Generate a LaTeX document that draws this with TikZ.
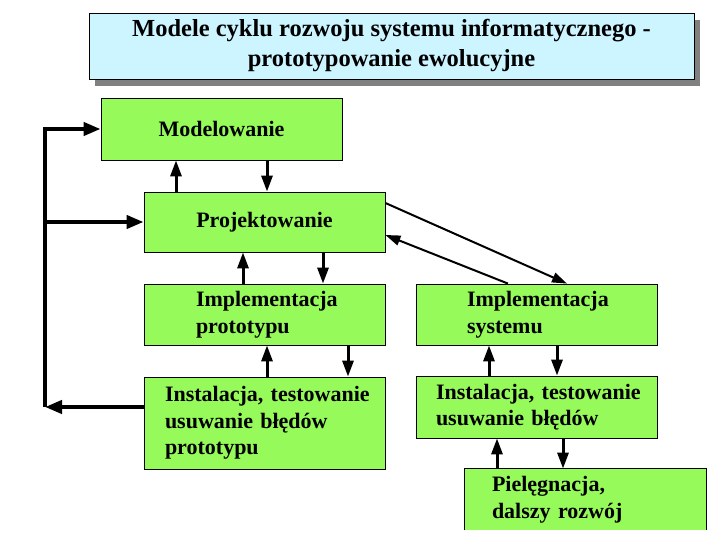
\documentclass[tikz,border=0pt]{standalone}
\usepackage{fontspec}
\setmainfont{Liberation Serif}
\usetikzlibrary{arrows.meta,shadows}
\definecolor{boxgreen}{RGB}{150,250,90}
\definecolor{titlecyan}{RGB}{204,245,255}
\definecolor{shadowgray}{RGB}{128,128,128}
\hyphenpenalty=10000
\exhyphenpenalty=10000

\begin{document}
\begin{tikzpicture}[x=1pt,y=-1pt]
  \tikzset{BoxStyle/.style   = {draw,
                                line width   = 0.8pt,
                                fill         = boxgreen,
                                inner ysep   = 0pt,
                                minimum height = 62pt,
                                font         = \fontsize{22}{26.5}\selectfont\bfseries},
           TitleStyle/.style = {draw,
                                line width   = 0.6pt,
                                fill         = titlecyan,
                                minimum width  = 605pt,
                                minimum height = 66pt,
                                align        = center,
                                drop shadow  = {shadow xshift=6pt, shadow yshift=-7pt, fill=shadowgray, opacity=1},
                                font         = \fontsize{24.5}{30}\selectfont\bfseries},
           varrow/.style = {line width=3pt, -{Triangle[length=16pt,width=11pt]}},
           darrow/.style = {line width=2pt, -{Triangle[length=15pt,width=10pt]}},
           barrow/.style = {line width=4pt, -{Triangle[length=17pt,width=13pt]}}}
  \useasboundingbox (0,0) rectangle (720,540);
  %%% TITRE %%%
  \node[TitleStyle] (title) at (391.5,46) {Modele cyklu rozwoju systemu informatycznego -\\prototypowanie ewolucyjne};
  %%% PROTOTYP %%%
  \node[BoxStyle, minimum width=241pt, align=center] (model) at (221.5,129) {Modelowanie};
  \node[BoxStyle, minimum width=241pt, minimum height=60pt, align=center] (proj) at (264.5,222) {Projektowanie};
  \node[BoxStyle, minimum height=61pt, inner xsep=52pt, text width=137pt, align=left] (implP) at (264.5,314.5) {Implementacja\\prototypu};
  \node[BoxStyle, minimum height=92pt, inner xsep=21pt, text width=199pt, align=left] (instP) at (264.5,423) {Instalacja,~testowanie\\usuwanie~błędów\\prototypu};
  %%% SYSTEM %%%
  \node[BoxStyle, minimum height=61pt, inner xsep=51pt, text width=139pt, align=left] (implS) at (536.5,314.5) {Implementacja\\systemu};
  \node[BoxStyle, inner xsep=20pt, text width=201pt, align=left] (instS) at (536.5,407) {Instalacja,~testowanie\\usuwanie~błędów};
  \node[BoxStyle, draw=none, minimum height=61pt, inner xsep=27pt, text width=187pt, align=left] (piel) at (585.5,499.5) {Pielęgnacja,\\dalszy~rozwój};
  \draw[line width=0.8pt] (piel.south west) -- (piel.north west) -- (piel.north east) -- (piel.south east);
  %
  \draw[varrow] (176,0 |- proj.north) -- (176,0 |- model.south);
  \draw[varrow] (267,0 |- model.south) -- (267,0 |- proj.north);
  \draw[varrow] (243,0 |- implP.north) -- (243,0 |- proj.south);
  \draw[varrow] (323,0 |- proj.south) -- (323,0 |- implP.north);
  \draw[varrow] (267,0 |- instP.north) -- (267,0 |- implP.south);
  \draw[varrow] (348,0 |- implP.south) -- (348,0 |- instP.north);
  \draw[varrow] (489,0 |- instS.north) -- (489,0 |- implS.south);
  \draw[varrow] (557,0 |- implS.south) -- (557,0 |- instS.north);
  \draw[varrow] (497,0 |- piel.north) -- (497,0 |- instS.south);
  \draw[varrow] (563,0 |- instS.south) -- (563,0 |- piel.north);
  %
  \draw[darrow] (proj.east |- 0,203) -- (567,0 |- implS.north);
  \draw[darrow] (508,0 |- implS.north) -- (proj.east |- 0,235);
  %%% RETOUR %%%
  \coordinate (corner) at (45,407);
  \draw[barrow] (instP.west |- corner) -- (corner);
  \draw[barrow] (corner) |- (model.west);
  \draw[barrow] (corner |- proj.west) -- (proj.west);
\end{tikzpicture}
\end{document}
